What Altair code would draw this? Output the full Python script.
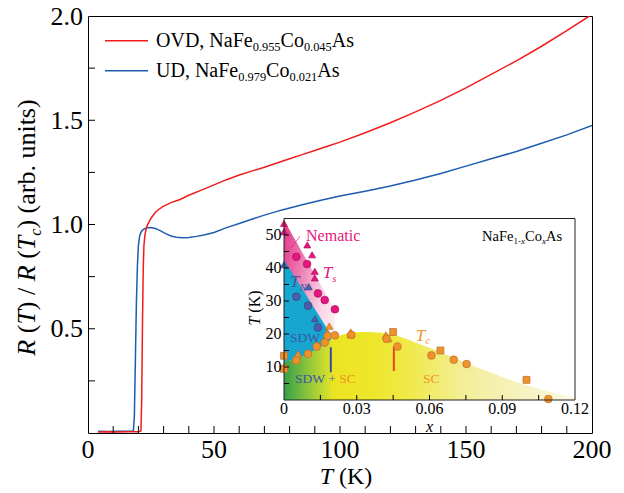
import altair as alt
import pandas as pd

FONT = "'Liberation Serif', 'Times New Roman', Times, serif"
RED = "#f01c1c"
BLUE = "#1f5cb0"
PINK = "#e3177c"
TNBLUE = "#3d56a4"
ORANGE = "#f0922a"

# ---------------- main panel: R(T)/R(Tc) ----------------
T_ovd = [4, 8, 12, 16, 20, 21.0, 21.3, 21.6, 21.9, 22.2, 22.6, 23.0, 23.5, 24.0, 25.0, 26.6,
         28, 30, 33, 36.5, 40, 45, 50, 55, 60, 65, 70, 75, 80, 85, 90, 95, 100, 110, 120,
         130, 140, 150, 160, 170, 180, 190, 199]
R_ovd = [0.005, 0.006, 0.005, 0.006, 0.006, 0.01, 0.15, 0.5, 0.78, 0.9, 0.95, 0.975, 0.995,
         1.008, 1.03, 1.056, 1.072, 1.088, 1.105, 1.12, 1.14, 1.165, 1.19, 1.215, 1.237, 1.256,
         1.275, 1.295, 1.315, 1.335, 1.355, 1.375, 1.395, 1.44, 1.488, 1.54, 1.595, 1.655,
         1.72, 1.785, 1.855, 1.93, 2.0]
T_ud = [4, 8, 12, 16, 18.0, 18.4, 18.8, 19.2, 19.6, 20.0, 20.5, 21.0, 21.5, 22.5, 23.5, 25,
        27, 29, 31, 33, 35, 37.5, 40, 43, 46, 50, 55, 60, 65, 70, 77, 85, 92, 100, 110, 120,
        130, 140, 150, 160, 170, 180, 190, 200]
R_ud = [0.008, 0.007, 0.008, 0.008, 0.01, 0.08, 0.35, 0.62, 0.8, 0.9, 0.945, 0.962, 0.972,
        0.98, 0.985, 0.986, 0.98, 0.968, 0.955, 0.945, 0.939, 0.936, 0.938, 0.943, 0.95, 0.962,
        0.985, 1.005, 1.025, 1.045, 1.07, 1.095, 1.115, 1.137, 1.16, 1.185, 1.213, 1.245, 1.28,
        1.315, 1.35, 1.39, 1.43, 1.475]

main_T_domain = [0, 200]
main_R_domain = [0, 2]
main_T_labels = [0, 50, 100, 150, 200]
main_T_ticks = [10, 20, 30, 40, 50, 60, 70, 80, 90, 100, 110, 120, 130, 140, 150, 160, 170, 180, 190]
main_R_labels = [0.5, 1.0, 1.5, 2.0]
main_R_ticks = [0.25, 0.5, 0.75, 1.0, 1.25, 1.5, 1.75]

# ---------------- inset: phase diagram ----------------
inset_x_domain = [0, 0.12]
inset_T_domain = [0, 55]
inset_x_labels = [0, 0.03, 0.06, 0.09, 0.12]
inset_x_ticks = [0.015, 0.03, 0.045, 0.06, 0.075, 0.09, 0.105]
inset_T_labels = [10, 20, 30, 40, 50]
inset_T_ticks = [5, 10, 15, 20, 25, 30, 35, 40, 45, 50]

dome_x = [0, 0.005, 0.01, 0.015, 0.02, 0.025, 0.03, 0.035, 0.04, 0.045, 0.05, 0.055, 0.06,
          0.065, 0.07, 0.075, 0.08, 0.085, 0.09, 0.095, 0.1, 0.105, 0.11, 0.115, 0.12]
dome_T = [11.5, 12.5, 14.0, 16.0, 18.5, 20.0, 20.5, 20.6, 20.4, 19.8, 18.6, 17.2, 15.8,
          14.3, 12.8, 11.3, 9.8, 8.4, 7.0, 5.7, 4.5, 3.4, 2.4, 1.5, 0.8]
sdwsc_x = [0, 0.005, 0.01, 0.015, 0.0193]
sdwsc_T = [11.5, 12.5, 14.0, 16.0, 18.2]
nem_x = [0, 0.021]
nem_T = [54.5, 27.3]
sdw_x = [0, 0.0195]
sdw_T = [42.5, 19.6]

Ts_tri_x = [0, 0, 0.0096, 0.0116, 0.0127, 0.0127]
Ts_tri_T = [53.5, 51, 47, 44, 39, 37]
Ts_cir_x = [0.0051, 0.0095, 0.014, 0.0168, 0.021]
Ts_cir_T = [43.4, 41.2, 32.3, 30.3, 27.5]
TN_tri_x = [0, 0.0102, 0.0127]
TN_tri_T = [41, 34.3, 24.6]
TN_cir_x = [0.0051, 0.0099, 0.014]
TN_cir_T = [31.3, 28.6, 22.0]
Tc_tri_x = [0, 0.0058, 0.01, 0.0135, 0.0178, 0.0187, 0.0275, 0.0275, 0.042, 0.043]
Tc_tri_T = [10.2, 14.0, 14.5, 17.0, 20.4, 22.4, 20.6, 19.8, 19.7, 18.6]
Tc_cir_x = [0.0051, 0.0099, 0.0135, 0.0168, 0.018, 0.021, 0.0278, 0.0423, 0.0468, 0.0608,
            0.070, 0.0753, 0.109]
Tc_cir_T = [12.0, 14.0, 16.2, 17.4, 19.4, 19.6, 19.7, 18.5, 16.2, 13.5, 12.2, 10.9, 0.3]
Tc_sq_x = [0, 0, 0.045, 0.0645, 0.100]
Tc_sq_T = [13.4, 9.4, 20.6, 15.0, 6.1]

# ---------------- geometry ----------------
W, H = 504, 417
IN_X0, IN_X1 = 196, 487
IN_Y0, IN_Y1 = 384, 202.5

sx_main = alt.Scale(domain=main_T_domain, nice=False, zero=False)
sy_main = alt.Scale(domain=main_R_domain, nice=False, zero=False)
sx_in = alt.Scale(domain=inset_x_domain, range=[IN_X0, IN_X1], nice=False, zero=False)
sy_in = alt.Scale(domain=inset_T_domain, range=[IN_Y0, IN_Y1], nice=False, zero=False)

ONE = pd.DataFrame({"k": [0]})

WID = {' ': 250, '(': 333, ')': 333, '/': 278, '.': 250, ',': 250, '+': 564, '-': 333,
       'A': 722, 'C': 667, 'D': 722, 'F': 556, 'K': 722, 'N': 722, 'O': 722, 'R': 667,
       'S': 556, 'T': 611, 'U': 722, 'V': 722, 'W': 944, 'a': 444, 'b': 500, 'c': 444,
       'e': 444, 'i': 278, 'm': 778, 'n': 500, 'o': 500, 'r': 333, 's': 389, 't': 278,
       'u': 500, 'x': 500}
ITAL = {'R': 611, 'T': 556, 'x': 444, 's': 389, 'c': 444, 'N': 667}


def tw(s, size, it=False):
    tot = 0
    for ch in s:
        if it and ch in ITAL:
            w = ITAL[ch]
        elif ch.isdigit():
            w = 500
        else:
            w = WID.get(ch, 500)
        tot += w
    return tot / 1000 * size


def rich(pieces, x, y, size, color, anchor="left", sub=0.62):
    widths = []
    for t, it, sb, c in pieces:
        s = size * sub if sb else size
        widths.append(tw(t, s, it))
    off = -sum(widths) / 2 if anchor == "center" else 0
    out = []
    for (t, it, sb, c), w in zip(pieces, widths):
        s = size * sub if sb else size
        lead = len(t) - len(t.lstrip())
        txt = t.strip()
        if txt:
            out.append(alt.Chart(ONE).mark_text(
                text=txt, font=FONT, fontSize=s, fontStyle="italic" if it else "normal",
                align="left", baseline="alphabetic", dx=off + tw(" " * lead, s),
                dy=size * 0.22 if sb else 0, color=c or color).encode(x=x, y=y))
        off += w
    return out


def rich_rot(pieces, xb, yc, size, color, sub=0.62):
    widths = []
    for t, it, sb, c in pieces:
        s = size * sub if sb else size
        widths.append(tw(t, s, it))
    pos = yc + sum(widths) / 2
    out = []
    for (t, it, sb, c), w in zip(pieces, widths):
        s = size * sub if sb else size
        lead = len(t) - len(t.lstrip())
        txt = t.strip()
        if txt:
            out.append(alt.Chart(ONE).mark_text(
                text=txt, font=FONT, fontSize=s, fontStyle="italic" if it else "normal",
                align="left", baseline="alphabetic", angle=270, color=c or color).encode(
                x=alt.value(xb + (size * 0.22 if sb else 0)),
                y=alt.value(pos - tw(" " * lead, s))))
        pos -= w
    return out


def fmt_in(v):
    return "0" if v == 0 else f"{v:.2f}"


# ---------------- main layers ----------------
df_ovd = pd.DataFrame({"T": T_ovd, "R": R_ovd})
df_ud = pd.DataFrame({"T": T_ud, "R": R_ud})

MX = alt.X("T:Q", scale=sx_main, axis=None)
MY = alt.Y("R:Q", scale=sy_main, axis=None)

line_ud = alt.Chart(df_ud).mark_line(color=BLUE, strokeWidth=1.5, clip=True).encode(x=MX, y=MY)
line_ovd = alt.Chart(df_ovd).mark_line(color=RED, strokeWidth=1.5, clip=True).encode(x=MX, y=MY)

xt_main = alt.Chart(pd.DataFrame({"T": main_T_ticks})).mark_rule(color="black", strokeWidth=1).encode(
    x=MX, y=alt.value(H - 7), y2=alt.value(H))
yt_main = alt.Chart(pd.DataFrame({"R": main_R_ticks})).mark_rule(color="black", strokeWidth=1).encode(
    y=MY, x=alt.value(0), x2=alt.value(7))

xl_main = alt.Chart(pd.DataFrame({"T": main_T_labels, "lab": [str(v) for v in main_T_labels]})).mark_text(
    font=FONT, fontSize=26, color="black", align="center", baseline="alphabetic").encode(
    x=MX, y=alt.value(H + 25), text="lab:N")
yl_main = alt.Chart(pd.DataFrame({"R": main_R_labels, "lab": [f"{v:.1f}" for v in main_R_labels]})).mark_text(
    font=FONT, fontSize=26, color="black", align="right", baseline="alphabetic", dy=8.6).encode(
    y=MY, x=alt.value(-5), text="lab:N")

leg_red = alt.Chart(ONE).mark_rule(color=RED, strokeWidth=1.5).encode(
    x=alt.value(17), x2=alt.value(60), y=alt.value(24.7))
leg_blue = alt.Chart(ONE).mark_rule(color=BLUE, strokeWidth=1.5).encode(
    x=alt.value(17), x2=alt.value(60), y=alt.value(54.7))

txt_red = rich([("OVD, NaFe", 0, 0, None), ("0.955", 0, 1, None), ("Co", 0, 0, None),
                ("0.045", 0, 1, None), ("As", 0, 0, None)],
               alt.value(68), alt.value(31), 20, "black")
txt_blue = rich([("UD, NaFe", 0, 0, None), ("0.979", 0, 1, None), ("Co", 0, 0, None),
                 ("0.021", 0, 1, None), ("As", 0, 0, None)],
                alt.value(68), alt.value(61), 20, "black")
xtitle = rich([("T", 1, 0, None), (" (K)", 0, 0, None)], alt.value(258), alt.value(468),
              24, "black", anchor="center")
ytitle = rich_rot([("R", 1, 0, None), (" (", 0, 0, None), ("T", 1, 0, None), (") / ", 0, 0, None),
                   ("R", 1, 0, None), (" (", 0, 0, None), ("T", 1, 0, None), ("c", 1, 1, None),
                   (") (arb. units)", 0, 0, None)], -53, 211.5, 26, "black")

main = alt.layer(line_ud, line_ovd, xt_main, yt_main, xl_main, yl_main, leg_red, leg_blue,
                 *txt_red, *txt_blue, *xtitle, *ytitle)

# ---------------- inset layers ----------------
def X(f="x:Q"):
    return alt.X(f, scale=sx_in, axis=None)


def Y(f="T:Q"):
    return alt.Y(f, scale=sy_in, axis=None)


def XD(v):
    return alt.XDatum(v, scale=sx_in, axis=None, type="quantitative")


def YD(v):
    return alt.YDatum(v, scale=sy_in, axis=None, type="quantitative")


frame_df = pd.DataFrame({"x0": [inset_x_domain[0]], "x1": [inset_x_domain[1]],
                         "y0": [inset_T_domain[0]], "y1": [inset_T_domain[1]]})
frame_bg = alt.Chart(frame_df).mark_rect(fill="white", stroke=None).encode(
    x=X("x0:Q"), x2="x1:Q", y=Y("y0:Q"), y2="y1:Q")
frame_fg = alt.Chart(frame_df).mark_rect(fill=None, fillOpacity=0, stroke="#222222", strokeWidth=1).encode(
    x=X("x0:Q"), x2="x1:Q", y=Y("y0:Q"), y2="y1:Q")


def area(xs, Ts, fill):
    df = pd.DataFrame({"x": xs, "T": Ts, "b": [0] * len(xs)})
    return alt.Chart(df).mark_area(color=fill, opacity=1, interpolate="monotone").encode(
        x=X(), y=Y(), y2="b:Q")


def grad(stops, x1=0, y1=0, x2=1, y2=0):
    return alt.Gradient(gradient="linear", x1=x1, y1=y1, x2=x2, y2=y2,
                        stops=[alt.GradientStop(color=c, offset=o) for o, c in stops])


a_nem = area(nem_x, nem_T, grad([(0, "#e4358b"), (0.35, "#ec7ab1"), (0.7, "#f7cde1"), (1, "#fdf0f5")],
                                0, 0, 1, 0.6))
a_sdw = area(sdw_x, sdw_T, "#16a6cf")
a_dome = area(dome_x, dome_T, grad([(0, "#e8e11a"), (0.3, "#eee629"), (0.42, "#f0e946"),
                                    (0.62, "#f3ee98"), (0.85, "#f7f3c6"), (1, "#fbf9e0")]))
a_sdwsc = area(sdwsc_x, sdwsc_T, grad([(0, "#35a048"), (0.5, "#8cc43c"), (1, "#dde22c")]))


def pts(xs, Ts, shape, size, fill, stroke):
    df = pd.DataFrame({"x": xs, "T": Ts})
    return alt.Chart(df).mark_point(shape=shape, size=size, filled=True, fill=fill, stroke=stroke,
                                    strokeWidth=0.7, opacity=1, fillOpacity=1).encode(x=X(), y=Y())


m_layers = [
    pts(Ts_tri_x, Ts_tri_T, "triangle-up", 50, PINK, "#b30f62"),
    pts(Ts_cir_x, Ts_cir_T, "circle", 60, PINK, "#b30f62"),
    pts(TN_tri_x, TN_tri_T, "triangle-up", 50, "#4d5ea8", "#34428a"),
    pts(TN_cir_x, TN_cir_T, "circle", 60, "#4d5ea8", "#34428a"),
    pts(Tc_tri_x, Tc_tri_T, "triangle-up", 55, ORANGE, "#b8702e"),
    pts(Tc_cir_x, Tc_cir_T, "circle", 60, ORANGE, "#b8702e"),
    pts(Tc_sq_x, Tc_sq_T, "square", 48, ORANGE, "#b8702e"),
]

vline_b = alt.Chart(ONE).mark_rule(color="#2f4f9f", strokeWidth=2).encode(
    x=XD(0.0193), y=YD(8.4), y2=alt.Y2Datum(16.0))
vline_r = alt.Chart(ONE).mark_rule(color="#e8412b", strokeWidth=2).encode(
    x=XD(0.0453), y=YD(8.8), y2=alt.Y2Datum(16.3))
leader = alt.Chart(ONE).mark_rule(color=PINK, strokeWidth=0.7).encode(
    x=XD(0.0066), x2=alt.X2Datum(0.0028), y=YD(49.6), y2=alt.Y2Datum(46.0))

xt_in = alt.Chart(pd.DataFrame({"x": inset_x_ticks})).mark_rule(color="black", strokeWidth=1).encode(
    x=X(), y=alt.value(IN_Y0 - 5), y2=alt.value(IN_Y0))
yt_in = alt.Chart(pd.DataFrame({"T": inset_T_ticks})).mark_rule(color="black", strokeWidth=1).encode(
    y=Y(), x=alt.value(IN_X0), x2=alt.value(IN_X0 + 5))

xl_in = alt.Chart(pd.DataFrame({"x": inset_x_labels, "lab": [fmt_in(v) for v in inset_x_labels]})).mark_text(
    font=FONT, fontSize=16, color="black", align="center", baseline="alphabetic").encode(
    x=X(), y=alt.value(IN_Y0 + 14), text="lab:N")
yl_in = alt.Chart(pd.DataFrame({"T": inset_T_labels, "lab": [str(v) for v in inset_T_labels]})).mark_text(
    font=FONT, fontSize=16, color="black", align="right", baseline="alphabetic", dy=5.3).encode(
    y=Y(), x=alt.value(IN_X0 - 2.5), text="lab:N")

t_nem = rich([("Nematic", 0, 0, None)], XD(0.0091), YD(48.3), 16, PINK)
t_Ts = rich([("T", 1, 0, None), ("s", 1, 1, None)], XD(0.016), YD(37.0), 17, PINK)
t_TN = rich([("T", 1, 0, None), ("N", 1, 1, None)], XD(0.0025), YD(34.2), 17, TNBLUE)
t_sdw = rich([("SDW", 0, 0, None)], XD(0.0025), YD(17.7), 13.5, TNBLUE)
t_mix = rich([("SDW", 0, 0, TNBLUE), (" + ", 0, 0, "#5a6aa8"), ("SC", 0, 0, ORANGE)],
             XD(0.0045), YD(5.2), 13.5, TNBLUE)
t_sc = rich([("SC", 0, 0, None)], XD(0.0573), YD(5.2), 13.5, ORANGE)
t_Tc = rich([("T", 1, 0, None), ("c", 1, 1, None)], XD(0.0543), YD(18.0), 17, ORANGE)
t_comp = rich([("NaFe", 0, 0, None), ("1-", 0, 1, None), ("x", 1, 1, None), ("Co", 0, 0, None),
               ("x", 1, 1, None), ("As", 0, 0, None)], XD(0.0817), YD(48.2), 14.5, "black")
t_xi = rich([("x", 1, 0, None)], XD(0.06), alt.value(415.5), 16, "black", anchor="center")
t_yi = rich_rot([("T", 1, 0, None), (" (K)", 0, 0, None)], 172, 292, 16, "black")

inset = alt.layer(frame_bg, a_nem, a_sdw, a_dome, a_sdwsc, vline_b, vline_r, leader,
                  *m_layers, *t_nem, *t_Ts, *t_TN, *t_sdw, *t_mix, *t_sc, *t_Tc, *t_comp,
                  *t_xi, frame_fg, xt_in, yt_in, xl_in, yl_in)

chart = alt.layer(main, inset, *t_yi).resolve_scale(x="independent", y="independent").properties(
    width=W, height=H,
    autosize=alt.AutoSizeParams(type="none"),
    padding={"left": 88, "top": 16, "right": 32, "bottom": 60},
    background="white",
).configure_view(stroke="black", strokeWidth=1)

chart.save("out.html", embed_options={"renderer": "svg", "actions": False})
